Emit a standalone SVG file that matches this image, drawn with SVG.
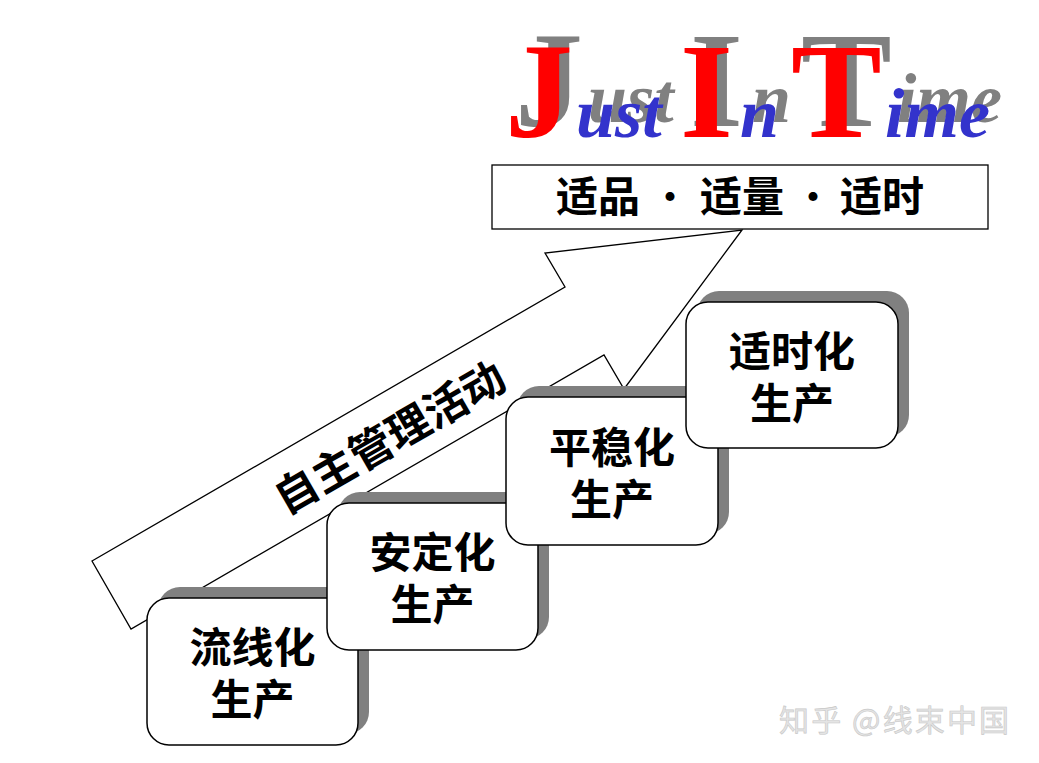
<svg xmlns="http://www.w3.org/2000/svg" width="1039" height="763" viewBox="0 0 1039 763">
<style>
.cjk{font-family:"Noto Sans CJK SC","Noto Sans",sans-serif;font-weight:bold;fill:#000}
.dot{font-weight:normal}
.box{fill:#fff;stroke:#000;stroke-width:1.5}
.shadow{fill:#808080}
.cap{font-family:"Liberation Serif",serif;font-weight:bold;font-size:136px}
.low{font-family:"Liberation Serif",serif;font-weight:bold;font-style:italic;font-size:70px}
.red{fill:#ff0000}
.blue{fill:#3333cc}
.gray{fill:#808080}
</style>
<rect width="1039" height="763" fill="#fff"/>

<g id="title">
  <g class="gray">
    <text class="cap" x="515" y="126">J</text>
    <text class="low" x="588" y="122">ust</text>
    <text class="cap" x="690" y="126">I</text>
    <text class="low" x="752" y="122">n</text>
    <text class="cap" x="801" y="126">T</text>
    <text class="low" x="897" y="122">ime</text>
  </g>
  <text class="cap red" x="505" y="137">J</text>
  <text class="low blue" x="576" y="137">ust</text>
  <text class="cap red" x="680" y="137">I</text>
  <text class="low blue" x="740" y="137">n</text>
  <text class="cap red" x="791" y="137">T</text>
  <text class="low blue" x="885" y="137">ime</text>
</g>

<g id="connectors">
  <polygon id="arrow" points="92,561 565,287 545,253 742,230 624,389 604,355 131,629" fill="#fff" stroke="#000" stroke-width="1.3" stroke-linejoin="miter"/>
  <text class="cjk" font-size="43" text-anchor="middle" x="390" y="453" transform="rotate(-30 390 438)">自主管理活动</text>
</g>

<g id="goal">
  <rect x="492" y="165" width="496" height="64" fill="#fff" stroke="#000" stroke-width="1.3"/>
  <text class="cjk" font-size="42" text-anchor="middle" y="212"><tspan x="598">适品</tspan><tspan class="dot" x="670">·</tspan><tspan x="742">适量</tspan><tspan class="dot" x="813">·</tspan><tspan x="882">适时</tspan></text>
</g>

<g id="step1">
  <rect class="shadow" x="158" y="587" width="211" height="147" rx="22"/>
  <rect class="box" x="147" y="598" width="211" height="147" rx="22"/>
  <text class="cjk" font-size="42" text-anchor="middle"><tspan x="252.5" y="663">流线化</tspan><tspan x="252.5" y="715">生产</tspan></text>
</g>

<g id="step2">
  <rect class="shadow" x="338" y="492" width="211" height="147" rx="22"/>
  <rect class="box" x="327" y="503" width="211" height="147" rx="22"/>
  <text class="cjk" font-size="42" text-anchor="middle"><tspan x="432.5" y="568">安定化</tspan><tspan x="432.5" y="620">生产</tspan></text>
</g>

<g id="step3">
  <rect class="shadow" x="517" y="386" width="212" height="148" rx="22"/>
  <rect class="box" x="506" y="397" width="212" height="148" rx="22"/>
  <text class="cjk" font-size="42" text-anchor="middle"><tspan x="612" y="463">平稳化</tspan><tspan x="612" y="515">生产</tspan></text>
</g>

<g id="step4">
  <rect class="shadow" x="697" y="291" width="212" height="146" rx="22"/>
  <rect class="box" x="686" y="302" width="212" height="146" rx="22"/>
  <text class="cjk" font-size="42" text-anchor="middle"><tspan x="792" y="367">适时化</tspan><tspan x="792" y="419">生产</tspan></text>
</g>

<g id="watermark">
  <text x="779" y="731" font-family="Noto Sans CJK SC, sans-serif" font-size="30" fill="#e4e4e4" stroke="#c8c8c8" stroke-width="0.6" textLength="230" lengthAdjust="spacing">知乎 @线束中国</text>
</g>
</svg>
